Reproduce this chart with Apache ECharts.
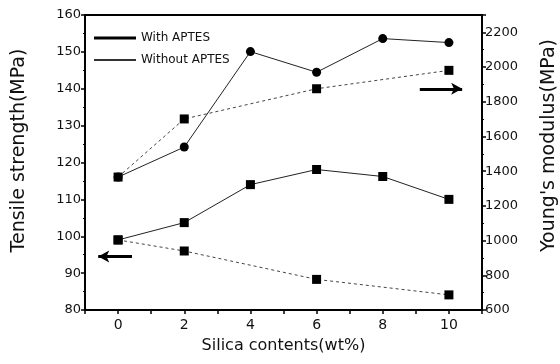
<!DOCTYPE html>
<html><head><meta charset="utf-8">
<script src="https://cdn.jsdelivr.net/npm/echarts@6/dist/echarts.min.js"></script>
<style>html,body{margin:0;padding:0;background:#fff}#c{width:560px;height:364px}</style>
</head><body><div id="c"></div>
<script>
const xTicks = [0, 2, 4, 6, 8, 10];
const withX = [0, 2, 4, 6, 8, 10];
const withoutX = [0, 2, 6, 10];
const tensileWith = [99.0, 103.7, 114.0, 118.1, 116.2, 110.0];
const tensileWithout = [99.0, 96.0, 88.3, 84.1];
const modulusWith = [1366, 1539, 2089, 1970, 2164, 2141];
const modulusWithout = [1366, 1701, 1875, 1981];
const leftTicks = [80, 90, 100, 110, 120, 130, 140, 150, 160];
const rightTicks = [600, 800, 1000, 1200, 1400, 1600, 1800, 2000, 2200];

const pairs = (xs, ys) => xs.map((x, i) => [x, ys[i]]);
const font = 'DejaVu Sans, Liberation Sans, sans-serif';
const solid = {color: '#222', width: 1, type: 'solid'};
const dotted = {color: '#444', width: 1, type: [3, 3]};
const arrowLine = (a, b) => ({
  silent: true, symbol: ['none', 'arrow'], symbolSize: [9, 11],
  label: {show: false}, lineStyle: {color: '#000', width: 3, type: 'solid'},
  data: [[{coord: a}, {coord: b}]]
});

const chart = echarts.init(document.getElementById('c'));
chart.setOption({
  animation: false,
  backgroundColor: '#fff',
  textStyle: {fontFamily: font},
  grid: {left: 85, right: 78, top: 15, bottom: 54, show: true, borderColor: '#000', borderWidth: 2,
         backgroundColor: 'transparent', containLabel: false, outerBoundsMode: 'none'},
  legend: [
    {data: [{name: 'With APTES', itemStyle: {color: '#000'}}], left: 89, top: 27, icon: 'rect', itemWidth: 42, itemHeight: 3,
     textStyle: {fontSize: 12, color: '#111', fontFamily: font}, selectedMode: false},
    {data: [{name: 'Without APTES', itemStyle: {color: '#333'}}], left: 89, top: 49, icon: 'rect', itemWidth: 42, itemHeight: 2,
     textStyle: {fontSize: 12, color: '#111', fontFamily: font}, selectedMode: false}
  ],
  xAxis: {
    type: 'value', min: -1, max: 11, interval: 1,
    name: 'Silica contents(wt%)', nameLocation: 'middle', nameGap: 28,
    nameTextStyle: {fontSize: 16, color: '#111', fontFamily: font},
    axisLine: {show: true, onZero: false, lineStyle: {color: '#000', width: 2}},
    axisTick: {show: true, inside: false, length: 4, lineStyle: {color: '#000', width: 1.5}},
    axisLabel: {fontSize: 14, color: '#111', margin: 8, fontFamily: font,
      formatter: v => xTicks.includes(v) ? String(v) : ''},
    splitLine: {show: false}
  },
  yAxis: [
    {
      type: 'value', min: leftTicks[0], max: leftTicks[leftTicks.length - 1], interval: 10, position: 'left',
      name: 'Tensile strength(MPa)', nameLocation: 'middle', nameGap: 56,
      nameTextStyle: {fontSize: 19, color: '#111', fontFamily: font, padding: [0, 0, 0, 24]},
      axisLine: {show: true, onZero: false, lineStyle: {color: '#000', width: 2}},
      axisTick: {show: true, length: 4, lineStyle: {color: '#000', width: 1.5}},
      minorTick: {show: true, splitNumber: 2, length: 2, lineStyle: {color: '#000'}},
      axisLabel: {fontSize: 13, color: '#111', margin: 4, fontFamily: font},
      splitLine: {show: false}
    },
    {
      type: 'value', min: 600, max: 2300, interval: 200, position: 'right',
      name: "Young's modulus(MPa)", nameLocation: 'middle', nameGap: 58, nameRotate: 90,
      nameTextStyle: {fontSize: 19, color: '#111', fontFamily: font, padding: [0, 0, 0, 34]},
      axisLine: {show: true, onZero: false, lineStyle: {color: '#000', width: 2}},
      axisTick: {show: true, length: 4, lineStyle: {color: '#000', width: 1.5}},
      minorTick: {show: true, splitNumber: 2, length: 2, lineStyle: {color: '#000'}},
      axisLabel: {fontSize: 13, color: '#111', margin: 3, showMaxLabel: false, fontFamily: font,
        formatter: v => rightTicks.includes(v) ? String(v) : ''},
      splitLine: {show: false}
    }
  ],
  series: [
    {name: 'With APTES', type: 'line', yAxisIndex: 1, data: pairs(withX, modulusWith),
     symbol: 'circle', symbolSize: 9, itemStyle: {color: '#000'}, lineStyle: solid, z: 2},
    {name: 'Without APTES', type: 'line', yAxisIndex: 1, data: pairs(withoutX, modulusWithout),
     symbol: 'rect', symbolSize: 9, itemStyle: {color: '#000'}, lineStyle: dotted, z: 3,
     markLine: arrowLine([9.12, 1875], [10.4, 1875])},
    {name: 'With APTES', type: 'line', yAxisIndex: 0, data: pairs(withX, tensileWith),
     symbol: 'rect', symbolSize: 9, itemStyle: {color: '#000'}, lineStyle: solid, z: 3,
     markLine: arrowLine([0.42, 94.5], [-0.6, 94.5])},
    {name: 'Without APTES', type: 'line', yAxisIndex: 0, data: pairs(withoutX, tensileWithout),
     symbol: 'rect', symbolSize: 9, itemStyle: {color: '#000'}, lineStyle: dotted, z: 3}
  ]
});
</script></body></html>
